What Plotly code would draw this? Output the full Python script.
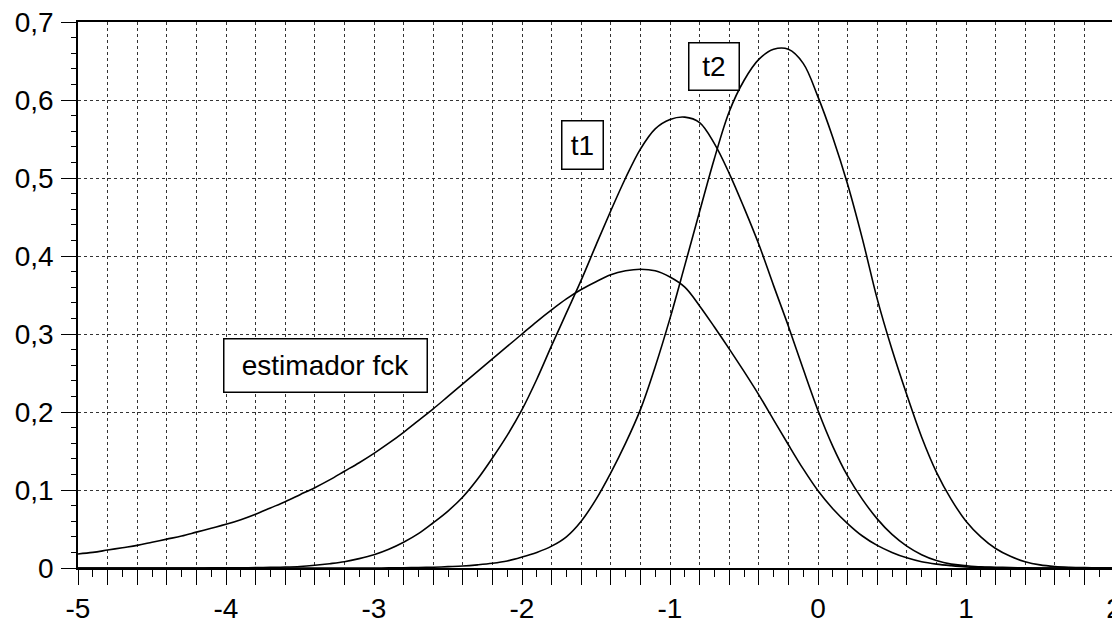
import numpy as np
import plotly.graph_objects as go

x_vals = [round(-5.0 + 0.1 * i, 1) for i in range(71)]

y_fck = [0.018, 0.020, 0.023, 0.026, 0.029, 0.033, 0.037, 0.041, 0.046, 0.051,   # -5.0 .. -4.1
         0.056, 0.062, 0.069, 0.077, 0.085, 0.094, 0.103, 0.113, 0.124, 0.135,   # -4.0 .. -3.1
         0.147, 0.160, 0.174, 0.189, 0.204, 0.220, 0.236, 0.252, 0.268, 0.284,   # -3.0 .. -2.1
         0.300, 0.316, 0.331, 0.345, 0.357, 0.367, 0.376, 0.381, 0.383, 0.381,   # -2.0 .. -1.1
         0.373, 0.360, 0.336, 0.309, 0.281, 0.252, 0.222, 0.190, 0.158, 0.127,   # -1.0 .. -0.1
         0.099, 0.076, 0.057, 0.041, 0.029, 0.020, 0.013, 0.008, 0.005, 0.003,   #  0.0 .. 0.9
         0.0015, 0.0008, 0.0004, 0.0002, 0.0001, 0.0, 0.0, 0.0, 0.0, 0.0,        #  1.0 .. 1.9
         0.0]                                                                    #  2.0

y_t1 = [0.0, 0.0, 0.0, 0.0, 0.0, 0.0, 0.0, 0.0, 0.0, 0.0001,                    # -5.0 .. -4.1
        0.0002, 0.0003, 0.0005, 0.0008, 0.0012, 0.002, 0.0035, 0.0055, 0.008, 0.012,  # -4.0 .. -3.1
        0.017, 0.024, 0.033, 0.044, 0.058, 0.073, 0.091, 0.114, 0.141, 0.170,   # -3.0 .. -2.1
        0.203, 0.242, 0.285, 0.327, 0.369, 0.414, 0.458, 0.500, 0.537, 0.563,   # -2.0 .. -1.1
        0.575, 0.578, 0.571, 0.544, 0.506, 0.462, 0.415, 0.362, 0.310, 0.255,   # -1.0 .. -0.1
        0.202, 0.156, 0.118, 0.088, 0.063, 0.043, 0.028, 0.017, 0.0095, 0.005,  #  0.0 .. 0.9
        0.003, 0.0015, 0.001, 0.0005, 0.0002, 0.0, 0.0, 0.0, 0.0, 0.0,          #  1.0 .. 1.9
        0.0]                                                                    #  2.0

y_t2 = [0.0, 0.0, 0.0, 0.0, 0.0, 0.0, 0.0, 0.0, 0.0, 0.0,                       # -5.0 .. -4.1
        0.0, 0.0, 0.0, 0.0, 0.0, 0.0, 0.0, 0.0, 0.0, 0.0,                       # -4.0 .. -3.1
        0.0, 0.0001, 0.0003, 0.0006, 0.001, 0.0017, 0.0025, 0.004, 0.006, 0.009,  # -3.0 .. -2.1
        0.014, 0.020, 0.028, 0.040, 0.060, 0.088, 0.122, 0.160, 0.203, 0.258,   # -2.0 .. -1.1
        0.320, 0.388, 0.457, 0.525, 0.585, 0.625, 0.652, 0.665, 0.665, 0.647,   # -1.0 .. -0.1
        0.604, 0.552, 0.492, 0.422, 0.345, 0.280, 0.222, 0.168, 0.123, 0.088,   #  0.0 .. 0.9
        0.060, 0.040, 0.025, 0.015, 0.008, 0.004, 0.002, 0.001, 0.0005, 0.0002, #  1.0 .. 1.9
        0.0]                                                                    #  2.0

x_tick_vals = [-5, -4, -3, -2, -1, 0, 1, 2]
x_tick_text = ["-5", "-4", "-3", "-2", "-1", "0", "1", "2"]
y_tick_vals = [0, 0.1, 0.2, 0.3, 0.4, 0.5, 0.6, 0.7]
y_tick_text = ["0", "0,1", "0,2", "0,3", "0,4", "0,5", "0,6", "0,7"]

labels = ["estimador fck", "t1", "t2"]
label_x = [-3.33, -1.59, -0.70]
label_y = [0.26, 0.542, 0.643]

FONT = "Liberation Sans, Arial, sans-serif"

fig = go.Figure()
for ys in [y_fck, y_t1, y_t2]:
    fig.add_trace(go.Scatter(x=x_vals, y=ys, mode="lines",
                             line=dict(color="black", width=1.6, shape="spline", smoothing=1.0),
                             showlegend=False, hoverinfo="skip"))

# x ticks every 0.2 (long), labels only on integers
xt = [round(v, 1) for v in np.arange(-5, 2.0001, 0.2)]
xt_text = [(x_tick_text[x_tick_vals.index(int(round(v)))] if abs(v - round(v)) < 1e-6 else "") for v in xt]
xminor = [round(v, 1) for v in np.arange(-4.9, 2.0, 0.2)]

box_w = [205, 43, 52]
box_h = [55, 50, 49]
for t, lx, ly, w, h in zip(labels, label_x, label_y, box_w, box_h):
    fig.add_annotation(x=lx, y=ly, xref="x", yref="y", text=t, showarrow=False,
                       font=dict(family=FONT, size=28, color="black"),
                       bgcolor="white", bordercolor="black", borderwidth=1.5,
                       borderpad=0, width=w - 3, height=h - 3)

fig.update_xaxes(range=[-5, 2], tickmode="array", tickvals=xt, ticktext=xt_text,
                 ticks="outside", ticklen=15, tickwidth=1, tickcolor="black",
                 ticklabelstandoff=0, automargin=False, ticklabeloverflow="allow",
                 showgrid=True, gridcolor="#333", griddash="dot", gridwidth=1,
                 showline=True, linecolor="black", linewidth=1.5, mirror=True,
                 zeroline=False,
                 minor=dict(tickmode="array", tickvals=xminor, ticks="outside", ticklen=7,
                            tickcolor="black", showgrid=False),
                 tickfont=dict(family=FONT, size=28, color="black"))
fig.update_yaxes(range=[0, 0.7], tickmode="array", tickvals=y_tick_vals, ticktext=y_tick_text,
                 ticks="outside", ticklen=15, tickwidth=1, tickcolor="black",
                 ticklabelstandoff=2, automargin=False, ticklabeloverflow="allow",
                 showgrid=True, gridcolor="#333", griddash="dot", gridwidth=1,
                 showline=True, linecolor="black", linewidth=1.5, mirror=True,
                 zeroline=False,
                 minor=dict(dtick=0.02, tick0=0, ticks="outside", ticklen=5,
                            tickcolor="black", showgrid=False),
                 tickfont=dict(family=FONT, size=28, color="black"))

# page body has an 8px margin, so the figure is sized/placed to land the plot where the reference has it
fig.update_layout(width=1112, height=622, margin=dict(l=70, r=6, t=14, b=62),
                  paper_bgcolor="white", plot_bgcolor="white",
                  font=dict(family=FONT, color="black"))

fig.write_html("out.html")
